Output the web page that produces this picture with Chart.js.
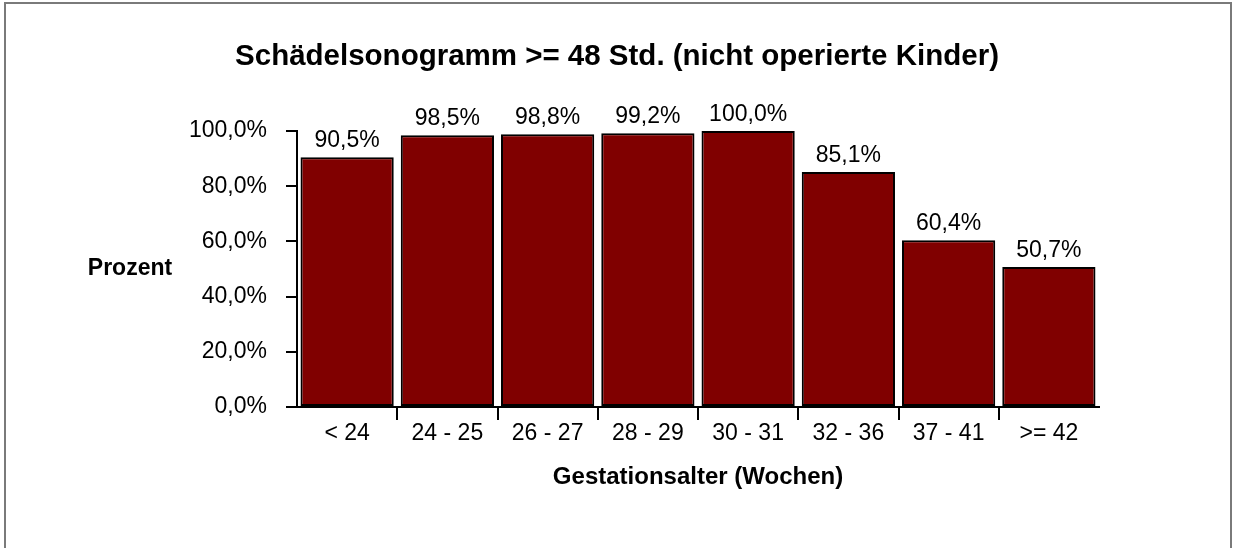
<!DOCTYPE html>
<html>
<head>
<meta charset="utf-8">
<title>Schädelsonogramm</title>
<script src="https://cdn.jsdelivr.net/npm/chart.js@4/dist/chart.umd.min.js"></script>
<style>
  html, body { margin: 0; padding: 0; background: #fff; }
  #wrap { width: 1234px; height: 548px; }
</style>
</head>
<body>
<div id="wrap"><canvas id="sonoChart" width="1234" height="548"></canvas></div>
<script>
// ===== data =====
const categories = ["< 24", "24 - 25", "26 - 27", "28 - 29", "30 - 31", "32 - 36", "37 - 41", ">= 42"];
const percentValues = [90.5, 98.5, 98.8, 99.2, 100.0, 85.1, 60.4, 50.7];
const yTicks = [0, 20, 40, 60, 80, 100];

const chartTitle = "Schädelsonogramm >= 48 Std. (nicht operierte Kinder)";
const xTitle = "Gestationsalter (Wochen)";
const yTitle = "Prozent";

const FONT = '"Liberation Sans", Arial, Helvetica, sans-serif';
Chart.defaults.font.family = FONT;
Chart.defaults.color = "#000";

function fmtPct(v) {
  return v.toFixed(1).replace(".", ",") + "%";
}

// frame round the whole picture + white background
const framePlugin = {
  id: "frame",
  beforeDraw(chart) {
    const ctx = chart.ctx;
    ctx.save();
    ctx.fillStyle = "#fff";
    ctx.fillRect(0, 0, chart.width, chart.height);
    ctx.strokeStyle = "#7a7a7a";
    ctx.lineWidth = 2;
    ctx.strokeRect(5, 3, 1226, chart.height + 20);
    ctx.restore();
  }
};

// value labels above bars
const valueLabels = {
  id: "valueLabels",
  afterDatasetsDraw(chart) {
    const ctx = chart.ctx;
    const meta = chart.getDatasetMeta(0);
    ctx.save();
    ctx.font = "23px " + FONT;
    ctx.fillStyle = "#000";
    ctx.textAlign = "center";
    ctx.textBaseline = "alphabetic";
    meta.data.forEach(function (bar, i) {
      ctx.fillText(fmtPct(percentValues[i]), bar.x, bar.y - 10);
    });
    ctx.restore();
  }
};

// chart title (centred on the whole picture) and horizontal y title
const titlesPlugin = {
  id: "titles",
  afterDraw(chart) {
    const ctx = chart.ctx;
    ctx.save();
    ctx.fillStyle = "#000";
    ctx.textAlign = "center";
    ctx.textBaseline = "middle";
    ctx.font = "bold 29.5px " + FONT;
    ctx.fillText(chartTitle, 617, 57);
    ctx.font = "bold 23px " + FONT;
    ctx.fillText(yTitle, 130, 269);
    ctx.restore();
  }
};

const ctx = document.getElementById("sonoChart").getContext("2d");
new Chart(ctx, {
  type: "bar",
  data: {
    labels: categories,
    datasets: [
      {
        data: percentValues,
        backgroundColor: "#800000",
        borderColor: "#000",
        borderWidth: 2,
        borderSkipped: false,
        barPercentage: 0.93,
        categoryPercentage: 1.0
      }
    ]
  },
  options: {
    responsive: false,
    animation: false,
    layout: { padding: { left: 0, right: 135, top: 131, bottom: 0 } },
    plugins: {
      legend: { display: false },
      tooltip: { enabled: false },
      title: { display: false }
    },
    scales: {
      x: {
        offset: true,
        grid: {
          display: true,
          drawOnChartArea: false,
          offset: true,
          tickLength: 13,
          lineWidth: 2,
          color: function (c) {
            return (c.index === undefined || c.index === 0) ? "rgba(0,0,0,0)" : "#000";
          }
        },
        border: { display: true, color: "#000", width: 2 },
        ticks: {
          font: { size: 23 },
          color: "#000",
          padding: 0,
          maxRotation: 0,
          autoSkip: false
        },
        title: {
          display: true,
          text: xTitle,
          font: { size: 24, weight: "bold" },
          color: "#000",
          padding: { top: 0, bottom: 56 }
        },
        afterFit(scale) { scale.height = 141; }
      },
      y: {
        min: 0,
        max: 100,
        afterBuildTicks(scale) {
          scale.ticks = yTicks.map(function (v) { return { value: v }; });
        },
        grid: {
          drawOnChartArea: false,
          tickLength: 11,
          lineWidth: 2,
          color: "#000"
        },
        border: { display: true, color: "#000", width: 2 },
        ticks: {
          font: { size: 23 },
          color: "#000",
          padding: 19,
          callback: function (v) { return fmtPct(v); }
        },
        afterFit(scale) { scale.width = 297; }
      }
    }
  },
  plugins: [framePlugin, valueLabels, titlesPlugin]
});
</script>
</body>
</html>
